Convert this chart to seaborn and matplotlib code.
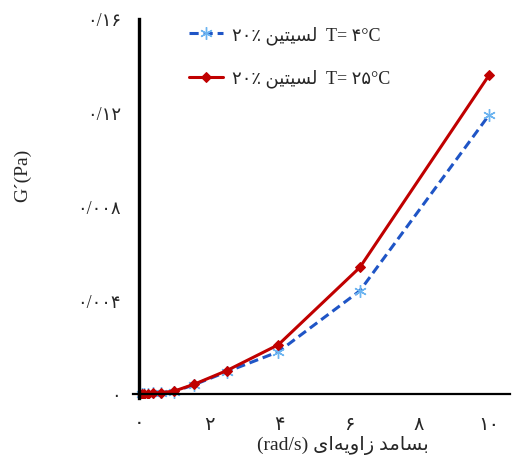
import matplotlib
matplotlib.use("Agg")
import matplotlib.pyplot as plt
import seaborn as sns

# angular frequency (rad/s) and G' (Pa)
freq = [0.1, 0.158, 0.251, 0.398, 0.631, 1.0, 1.585, 2.512, 3.981, 6.31, 10.0]
g_4c = [0.00001, 0.00001, 0.00002, 0.00003, 0.00005, 0.0001, 0.0004, 0.00095, 0.0018, 0.0044, 0.0119]
g_25c = [0.00001, 0.00001, 0.00002, 0.00003, 0.00006, 0.00012, 0.00042, 0.001, 0.0021, 0.0054, 0.0136]

x_ticks = [0, 2, 4, 6, 8, 10]
x_labels = ["۰", "۲", "۴", "۶", "۸", "۱۰"]
y_ticks = [0, 0.004, 0.008, 0.012, 0.016]
y_labels = ["۰", "۰/۰۰۴", "۰/۰۰۸", "۰/۱۲", "۰/۱۶"]

# Persian words written in presentation forms, in visual (left-to-right) order
lecithin = "\uFEE6\uFEF4\uFE98\uFEF4\uFEB4\uFEDF"
label_4c = "۲۰٪ " + lecithin + "  T= ۴°C"
label_25c = "۲۰٪ " + lecithin + "  T= ۲۵°C"
xlabel = "(rad/s) " + "\uFEEF\uFE8D\uFEEA\uFEF3\uFEED\uFE8D\uFEAF" + " " + "\uFEAA\uFEE3\uFE8E\uFEB4\uFE91"

sns.set_style("white")
plt.rcParams["font.family"] = ["Liberation Serif", "DejaVu Sans"]

fig = plt.figure(figsize=(5.12, 4.64), dpi=100)
ax = fig.add_axes([133 / 512, 1 - 398.5 / 464, 377 / 512, 378.5 / 464])

sns.lineplot(x=freq, y=g_4c, ax=ax, color="#1f55c6", linewidth=2.2,
             linestyle=(0, (3, 1.6)), marker=(6, 2, 0), markersize=9,
             markeredgecolor="#6cb4f0", markerfacecolor="#6cb4f0",
             markeredgewidth=1.0, label=label_4c)
sns.lineplot(x=freq, y=g_25c, ax=ax, color="#c00000", linewidth=2.2,
             marker="D", markersize=5, markeredgecolor="#c00000",
             label=label_25c)

ax.set_xlim(-0.17, 10.6)
ax.set_ylim(-0.00015, 0.016)
ax.spines["left"].set_position(("data", 0))
ax.spines["bottom"].set_position(("data", 0))
ax.spines["top"].set_visible(False)
ax.spines["right"].set_visible(False)
ax.spines["left"].set_linewidth(2.4)
ax.spines["bottom"].set_linewidth(1.6)
for s in ["left", "bottom"]:
    ax.spines[s].set_color("black")

ax.set_xticks(x_ticks[1:])
ax.set_xticklabels(x_labels[1:])
ax.set_yticks(y_ticks)
ax.set_yticklabels(y_labels)
ax.tick_params(axis="x", direction="in", length=8, width=1.2, pad=16, labelsize=14)
ax.tick_params(axis="y", direction="in", length=7, width=1.2, pad=13, labelsize=13)
ax.text(0, -0.0012, x_labels[0], ha="center", va="center", fontsize=14)

ax.set_xlabel(xlabel, fontsize=14)
ax.xaxis.set_label_coords(0.557, -0.1)
ax.set_ylabel("G´(Pa)", fontsize=14)
ax.yaxis.set_label_coords(-0.27, 0.59)

ax.legend(loc="upper left", bbox_to_anchor=(180 / 512, 1 - 17 / 464),
          bbox_transform=fig.transFigure, frameon=False, fontsize=13,
          handlelength=1.9, handletextpad=0.5, labelspacing=1.4, borderpad=0)

fig.savefig("out.png", dpi=100)
